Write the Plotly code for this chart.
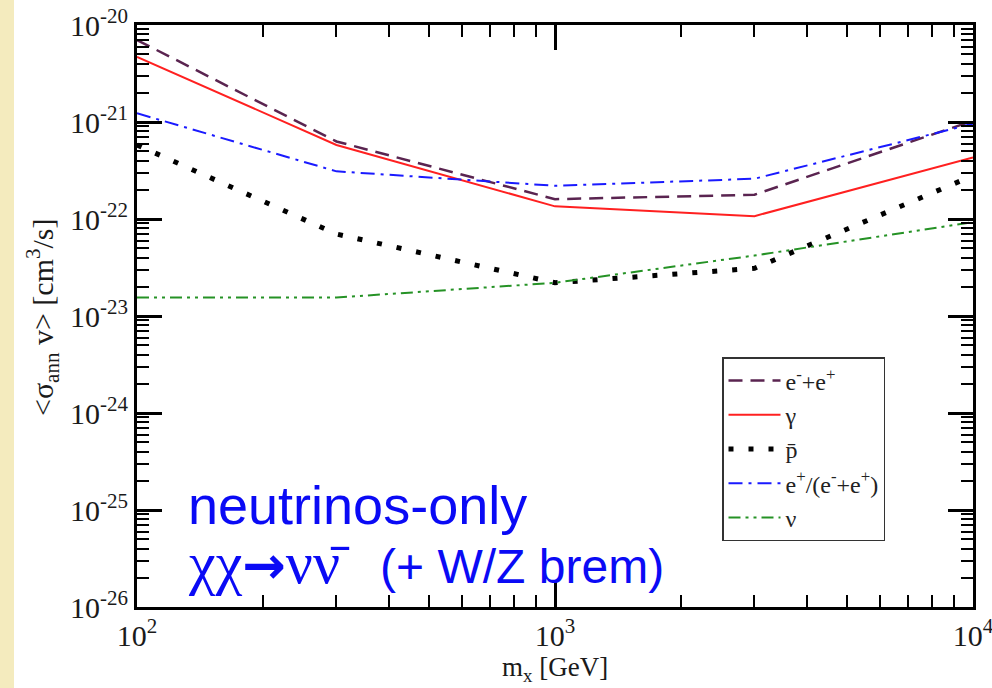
import plotly.graph_objects as go
import numpy as np

# ---- data ----
mass = [100, 300, 1000, 3000, 10000]
ee_total = [7.0e-21, 6.3e-22, 1.6e-22, 1.78e-22, 1.03e-21]
gamma = [4.7e-21, 5.8e-22, 1.35e-22, 1.07e-22, 4.3e-22]
pbar = [5.8e-22, 7.0e-23, 2.2e-23, 3.1e-23, 2.8e-22]
pos_frac = [1.23e-21, 3.1e-22, 2.2e-22, 2.6e-22, 9.6e-22]
nu = [1.55e-23, 1.55e-23, 2.2e-23, 4.2e-23, 9.3e-23]

x_exps = [2, 3, 4]
y_exps = [-26, -25, -24, -23, -22, -21, -20]
x_ticktext = ["10<sup>%d</sup>" % e for e in x_exps]
y_ticktext = ["10<sup>%d</sup>" % e for e in y_exps]

names = ["e<sup>-</sup>+e<sup>+</sup>", "γ", "p\u0304",
         "e<sup>+</sup>/(e<sup>-</sup>+e<sup>+</sup>)", "ν"]
series = [ee_total, gamma, pbar, pos_frac, nu]
colors = ["#5a2450", "#ff2020", "#000000", "#1a1aff", "#259225"]
dashes = ["14px,8px", "solid", "5px,15px", "14px,6px,3px,6px", "12px,5px,3px,5px,3px,5px"]
widths = [2.5, 2, 5, 2, 2]

fig = go.Figure()
for i, (nm, ys, c, d, w) in enumerate(zip(names, series, colors, dashes, widths)):
    fig.add_trace(go.Scatter(x=mass, y=ys, mode="lines", name=nm,
                             line=dict(color=c, dash=d, width=w)))

W, H = 992, 688
L, R, T, B = 137, 19, 25, 81
pw, ph = W - L - R, H - T - B

def px(xp):
    return (xp - L) / pw

def py(yp):
    return (H - B - yp) / ph

serif = "Liberation Serif"

def minor_vals(lo, hi):
    return [k * 10.0 ** e for e in range(lo, hi) for k in range(2, 10)]

axis_common = dict(showline=True, linewidth=3, linecolor="black", mirror="allticks",
                   ticks="inside", ticklen=25, tickwidth=2.5, tickcolor="black",
                   showgrid=False, zeroline=False, automargin=False,
                   ticklabeloverflow="allow",
                   tickfont=dict(family=serif, size=30, color="#1a1a1a"))

fig.update_xaxes(type="log", range=[2, 4], tickmode="array",
                 tickvals=[10.0 ** e for e in x_exps], ticktext=x_ticktext,
                 minor=dict(tickmode="array", tickvals=minor_vals(2, 4), ticks="inside",
                            ticklen=12, tickwidth=1.5, tickcolor="black", showgrid=False),
                 **axis_common)
fig.update_yaxes(type="log", range=[-26, -20], tickmode="array",
                 tickvals=[10.0 ** e for e in y_exps], ticktext=y_ticktext,
                 minor=dict(tickmode="array", tickvals=minor_vals(-26, -20), ticks="inside",
                            ticklen=12, tickwidth=1.5, tickcolor="black", showgrid=False),
                 **axis_common)

fig.update_layout(
    width=W, height=H,
    margin=dict(l=L, r=R, t=T, b=B, autoexpand=False),
    paper_bgcolor="white", plot_bgcolor="white",
    showlegend=True,
    legend=dict(x=px(722), y=py(357), xanchor="left", yanchor="top",
                bgcolor="white", bordercolor="#333", borderwidth=1.5,
                font=dict(family=serif, size=24, color="#222"),
                tracegroupgap=0, itemwidth=52),
    shapes=[dict(type="rect", xref="paper", yref="paper",
                 x0=px(0), x1=px(14), y0=py(H), y1=py(0),
                 fillcolor="#f4ebbe", line=dict(width=0), layer="below")],
    annotations=[
        dict(text="&lt;σ<sub>ann</sub> v&gt; [cm<sup>3</sup>/s]", textangle=-90,
             xref="paper", yref="paper", x=px(42), y=py(318),
             xanchor="center", yanchor="middle", showarrow=False,
             font=dict(family=serif, size=30, color="#1a1a1a")),
        dict(text="m<sub>x</sub> [GeV]", xref="paper", yref="paper",
             x=px(555), y=py(688), xanchor="center", yanchor="bottom", showarrow=False,
             font=dict(family=serif, size=27, color="#1a1a1a")),
        dict(text="neutrinos-only", xref="paper", yref="paper",
             x=px(186), y=py(505), xanchor="left", yanchor="middle", showarrow=False,
             font=dict(family="Liberation Sans", size=54, color="#0a0af5")),
        dict(text="<span style='font-family:Liberation Serif;font-size:60px'>χχ</span>"
                  "<span style='font-family:DejaVu Sans;font-weight:bold;font-size:52px'>→</span>"
                  "<span style='font-family:Liberation Serif;font-size:60px'>νν\u0304</span>"
                  "   (+ W/Z brem)",
             xref="paper", yref="paper",
             x=px(186), y=py(563), xanchor="left", yanchor="middle", showarrow=False,
             font=dict(family="Liberation Sans", size=48, color="#0a0af5")),
    ],
)

fig.write_html("out.html")
